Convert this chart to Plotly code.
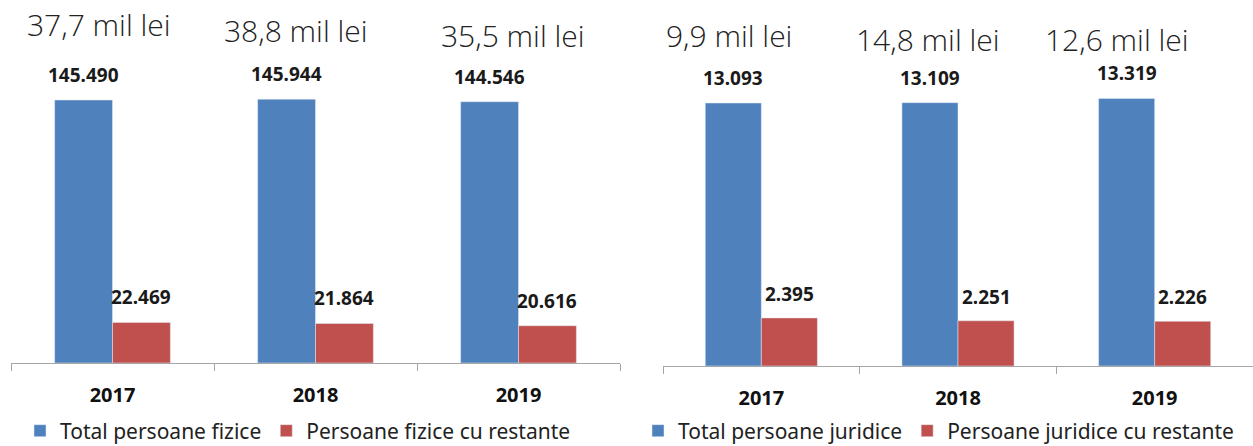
import plotly.graph_objects as go

years = ["2017", "2018", "2019"]

fizice_total = [145490, 145944, 144546]
fizice_restante = [22469, 21864, 20616]
fizice_sume = ["37,7 mil lei", "38,8 mil lei", "35,5 mil lei"]

juridice_total = [13093, 13109, 13319]
juridice_restante = [2395, 2251, 2226]
juridice_sume = ["9,9 mil lei", "14,8 mil lei", "12,6 mil lei"]

value_labels_fiz_total = ["145.490", "145.944", "144.546"]
value_labels_fiz_rest = ["22.469", "21.864", "20.616"]
value_labels_jur_total = ["13.093", "13.109", "13.319"]
value_labels_jur_rest = ["2.395", "2.251", "2.226"]

BLUE = "#4F81BD"
RED = "#C0504D"
FONT = "Noto Sans"
W, H = 1253, 446
BARGAP = 0.43

fig = go.Figure()
fig.add_trace(go.Bar(x=years, y=fizice_total, name="Total persoane fizice",
                     marker_color=BLUE, xaxis="x", yaxis="y", legend="legend"))
fig.add_trace(go.Bar(x=years, y=fizice_restante, name="Persoane fizice cu restante",
                     marker_color=RED, xaxis="x", yaxis="y", legend="legend"))
fig.add_trace(go.Bar(x=years, y=juridice_total, name="Total persoane juridice",
                     marker_color=BLUE, xaxis="x2", yaxis="y2", legend="legend2"))
fig.add_trace(go.Bar(x=years, y=juridice_restante, name="Persoane juridice cu restante",
                     marker_color=RED, xaxis="x2", yaxis="y2", legend="legend2"))

half = (1 - BARGAP) / 4
annotations = []
for i in range(3):
    for xr, yr, vals, labs, off, ysh in [
        ("x", "y", fizice_total, value_labels_fiz_total, -half, 25),
        ("x", "y", fizice_restante, value_labels_fiz_rest, half, 25),
        ("x2", "y2", juridice_total, value_labels_jur_total, -half, 25),
        ("x2", "y2", juridice_restante, value_labels_jur_rest, half, 24),
    ]:
        annotations.append(dict(x=i + off, y=vals[i], xref=xr, yref=yr, text=labs[i],
                                showarrow=False, yanchor="middle", yshift=ysh,
                                font=dict(family=FONT, size=19, color="#1a1a1a", weight="bold")))

sum_pos_fiz = [(-14, 24), (-20, 31), (-6, 35)]
sum_pos_jur = [(-32, 35), (-30, 39), (-38, 39)]
for i in range(3):
    for xr, texts, pos in [("x", fizice_sume, sum_pos_fiz), ("x2", juridice_sume, sum_pos_jur)]:
        dx, yc = pos[i]
        annotations.append(dict(x=i, xref=xr, xshift=dx, y=1 - yc / H, yref="paper",
                                text=texts[i], showarrow=False, yanchor="middle",
                                font=dict(family="Open Sans", size=30, color="#222222", weight=300)))

xaxis_common = dict(type="category", showline=True, linecolor="#A6A6A6", linewidth=1,
                    ticks="outside", tickson="boundaries", ticklen=7, tickcolor="#A6A6A6",
                    showgrid=False, zeroline=False, ticklabelstandoff=14, automargin=False,
                    tickfont=dict(family=FONT, size=20, color="#111111", weight="bold"),
                    fixedrange=True)

LEG_Y = (H - 431) / H

fig.update_layout(
    width=W, height=H,
    margin=dict(l=0, r=0, t=0, b=0, autoexpand=False),
    paper_bgcolor="white", plot_bgcolor="white",
    barmode="group", bargap=BARGAP, bargroupgap=0,
    xaxis=dict(domain=[11 / W, 620 / W], anchor="y", **xaxis_common),
    xaxis2=dict(domain=[663 / W, 1.0], anchor="y2", **xaxis_common),
    yaxis=dict(domain=[(H - 363) / H, 1.0], range=[0, 145490 * 363 / 263], visible=False,
               automargin=False, fixedrange=True),
    yaxis2=dict(domain=[(H - 366) / H, 1.0], range=[0, 13093 * 366 / 263], visible=False,
                automargin=False, fixedrange=True),
    legend=dict(orientation="h", x=20 / W, xanchor="left", y=LEG_Y, yanchor="middle",
                font=dict(family=FONT, size=21, color="#222222"), bgcolor="rgba(0,0,0,0)"),
    legend2=dict(orientation="h", x=638 / W, xanchor="left", y=LEG_Y, yanchor="middle",
                 font=dict(family=FONT, size=21, color="#222222"), bgcolor="rgba(0,0,0,0)"),
    annotations=annotations,
    showlegend=True,
)

fig.write_html("out.html", config={"displayModeBar": False},
               post_script="document.body.style.margin='0';document.body.style.padding='0';")
